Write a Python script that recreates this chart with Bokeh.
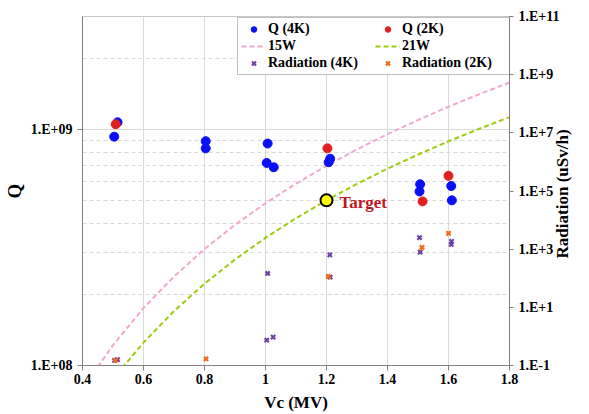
import math
from bokeh.plotting import figure
from bokeh.models import (Range1d, LogScale, LogAxis, LinearAxis, FixedTicker,
                          CustomJSTickFormatter, Legend, LegendItem)
from bokeh.core.properties import value
from bokeh.embed import file_html
from bokeh.resources import INLINE

# ---------------- data ----------------
q4_v = [0.504, 0.515, 0.804, 0.804, 1.007, 1.004, 1.027, 1.212, 1.207, 1.507, 1.505, 1.609, 1.611]
q4_q = [9.3e8, 1.07e9, 8.9e8, 8.3e8, 8.7e8, 7.2e8, 6.9e8, 7.5e8, 7.25e8, 5.85e8, 5.45e8, 5.75e8, 5.0e8]

q2_v = [0.509, 1.203, 1.515, 1.600]
q2_q = [1.05e9, 8.3e8, 4.95e8, 6.35e8]

w15_v = [0.45, 0.5, 0.6, 0.7, 0.8, 0.9, 1.0, 1.1, 1.2, 1.3, 1.4, 1.5, 1.6, 1.7, 1.8]
w15_q = [9.85e7, 1.22e8, 1.75e8, 2.38e8, 3.11e8, 3.94e8, 4.86e8, 5.88e8, 7.0e8, 8.22e8,
         9.53e8, 1.094e9, 1.245e9, 1.405e9, 1.576e9]

w21_v = [0.53, 0.6, 0.7, 0.8, 0.9, 1.0, 1.1, 1.2, 1.3, 1.4, 1.5, 1.6, 1.7, 1.8]
w21_q = [9.75e7, 1.25e8, 1.70e8, 2.22e8, 2.81e8, 3.47e8, 4.20e8, 5.0e8, 5.87e8, 6.81e8,
         7.81e8, 8.89e8, 1.003e9, 1.125e9]

r4_v = [0.505, 0.515, 1.007, 1.004, 1.025, 1.211, 1.212, 1.505, 1.507, 1.610, 1.609]
r4_r = [0.15, 0.16, 146, 0.74, 0.94, 640, 109, 2.5e3, 790, 1.85e3, 1.45e3]

r2_v = [0.508, 0.805, 1.206, 1.513, 1.600]
r2_r = [0.15, 0.17, 115, 1.14e3, 3.5e3]

target_v = [1.2]
target_q = [5.0e8]
target_label = ["Target"]

x_ticks = [0.4, 0.6, 0.8, 1.0, 1.2, 1.4, 1.6, 1.8]
x_labels = ["0.4", "0.6", "0.8", "1", "1.2", "1.4", "1.6", "1.8"]
q_ticks = [1e8, 1e9]
q_labels = ["1.E+08", "1.E+09"]
q_minor = [2e8, 3e8, 4e8, 5e8, 6e8, 7e8, 8e8, 9e8, 2e9, 3e9]
r_ticks = [1e-1, 1e1, 1e3, 1e5, 1e7, 1e9, 1e11]
r_labels = ["1.E-1", "1.E+1", "1.E+3", "1.E+5", "1.E+7", "1.E+9", "1.E+11"]
r_title = "Radiation (uSv/h)"

FONT = "Liberation Serif"

def fmt(vals, labs):
    return CustomJSTickFormatter(args=dict(vals=vals, labs=labs), code="""
        let best = -1, d = 1e300;
        for (let i = 0; i < vals.length; i++) {
            const dd = Math.abs(vals[i] - tick) / Math.abs(vals[i] || 1);
            if (dd < d) { d = dd; best = i; }
        }
        return d < 1e-6 ? labs[best] : "";
    """)

p = figure(output_backend="svg", toolbar_location=None,
           x_range=Range1d(0.4, 1.8), y_range=Range1d(1e8, 3e9), y_axis_type="log",
           frame_width=427, frame_height=349,
           min_border_left=76, min_border_right=68, min_border_top=16, min_border_bottom=46,
           background_fill_color="white", border_fill_color="white")
p.outline_line_color = "#C8C8C8"

p.extra_y_ranges = {"rad": Range1d(0.1, 1e11), "ttl": Range1d(0, 1)}
p.extra_y_scales = {"rad": LogScale()}

def style_axis(ax):
    ax.axis_line_color = "#808080"
    ax.major_tick_line_color = "#808080"
    ax.major_tick_out = 5
    ax.major_tick_in = 0
    ax.minor_tick_line_color = None
    ax.major_label_text_font = FONT
    ax.major_label_text_font_style = "bold"
    ax.major_label_text_font_size = "14px"
    ax.major_label_text_color = "black"
    ax.axis_label_text_font = FONT
    ax.axis_label_text_font_style = "bold"
    ax.axis_label_text_color = "black"

xa = p.xaxis[0]
xa.ticker = FixedTicker(ticks=x_ticks)
xa.formatter = fmt(x_ticks, x_labels)
xa.axis_label = "Vc (MV)"
style_axis(xa)
xa.axis_label_text_font_size = "17px"
xa.major_label_standoff = 3
xa.axis_label_standoff = 6

ya = p.yaxis[0]
ya.ticker = FixedTicker(ticks=q_ticks)
ya.formatter = fmt(q_ticks, q_labels)
ya.axis_label = "Q"
style_axis(ya)
ya.axis_label_text_font_size = "19px"
ya.major_label_standoff = 5
ya.axis_label_standoff = 3

ra = LogAxis(y_range_name="rad", ticker=FixedTicker(ticks=r_ticks),
             formatter=fmt(r_ticks, r_labels))
style_axis(ra)
ra.major_tick_out = 4
ra.major_label_standoff = 5
p.add_layout(ra, "right")

# right-axis title (reads bottom-to-top like the original); drawn as the single tick
# label of a bare helper axis, anchored at its lower end
ttl_anchor = [0.32]
ta = LinearAxis(y_range_name="ttl", ticker=FixedTicker(ticks=ttl_anchor),
                formatter=fmt(ttl_anchor, [r_title]))
ta.axis_line_color = None
ta.major_tick_line_color = None
ta.minor_tick_line_color = None
ta.major_tick_out = 0
ta.major_tick_in = 0
ta.major_label_standoff = 0
ta.major_label_orientation = math.pi / 2
ta.major_label_text_font = FONT
ta.major_label_text_font_style = "bold"
ta.major_label_text_font_size = "17px"
ta.major_label_text_color = "black"
p.add_layout(ta, "right")

p.xgrid[0].ticker = FixedTicker(ticks=x_ticks)
p.xgrid.grid_line_color = "#D9D9D9"
p.ygrid[0].ticker = FixedTicker(ticks=q_ticks, minor_ticks=q_minor)
p.ygrid.grid_line_color = "#D9D9D9"
p.ygrid.minor_grid_line_color = "#D9D9D9"
p.ygrid.minor_grid_line_dash = "4 3"

l15 = p.line(w15_v, w15_q, line_color="#F2A7D2", line_width=2, line_dash="5 3")
l21 = p.line(w21_v, w21_q, line_color="#9ACD0A", line_width=2, line_dash="5 3")

s_r4 = p.scatter(r4_v, r4_r, marker="x", size=6, line_width=2.2, line_color="#6F43A6",
                 y_range_name="rad")
s_r2 = p.scatter(r2_v, r2_r, marker="x", size=6, line_width=2.2, line_color="#F26A1B",
                 y_range_name="rad")

s_q4 = p.scatter(q4_v, q4_q, marker="circle", size=9, fill_color="#0A10F5", line_color="#0A10F5")
s_q2 = p.scatter(q2_v, q2_q, marker="circle", size=9, fill_color="#E0201E", line_color="#E0201E")

p.scatter(target_v, target_q, marker="circle", size=12, fill_color="#FFFF00",
          line_color="black", line_width=2)
p.text(target_v, target_q, text=target_label, x_offset=13, y_offset=2, text_baseline="middle",
       text_font=value(FONT), text_font_style="bold", text_font_size="17px",
       text_color="#C0161E")

legend = Legend(items=[
    LegendItem(label="Q (4K)", renderers=[s_q4]),
    LegendItem(label="Q (2K)", renderers=[s_q2]),
    LegendItem(label="15W", renderers=[l15]),
    LegendItem(label="21W", renderers=[l21]),
    LegendItem(label="Radiation (4K)", renderers=[s_r4]),
    LegendItem(label="Radiation (2K)", renderers=[s_r2]),
], location=(155, 290), orientation="horizontal", ncols=2)
legend.label_text_font = FONT
legend.label_text_font_style = "bold"
legend.label_text_font_size = "14px"
legend.label_text_color = "black"
legend.border_line_color = "#808080"
legend.border_line_width = 1
legend.background_fill_color = "white"
legend.background_fill_alpha = 1
legend.glyph_width = 25
legend.glyph_height = 14
legend.label_standoff = 2
legend.label_height = 14
legend.label_width = 106
legend.spacing = 1
legend.padding = 3
legend.margin = 0
p.add_layout(legend, "center")

open("out.html", "w").write(file_html(p, INLINE))
